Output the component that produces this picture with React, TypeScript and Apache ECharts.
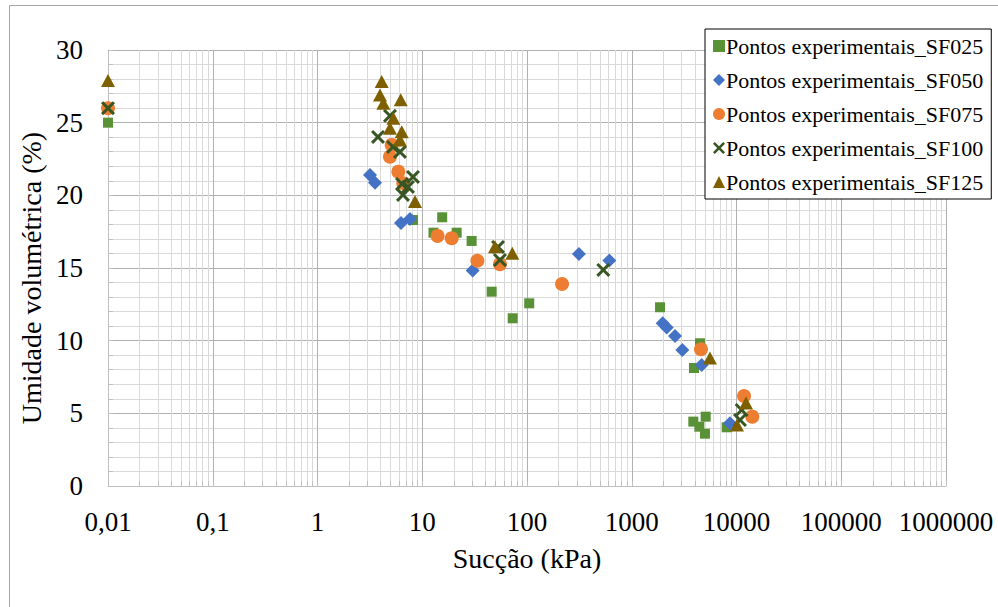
import React, { useEffect, useRef } from "react";
import * as echarts from "echarts";

const seriesNames = [
  "Pontos experimentais_SF025",
  "Pontos experimentais_SF050",
  "Pontos experimentais_SF075",
  "Pontos experimentais_SF100",
  "Pontos experimentais_SF125",
];

const sf025X = [0.01, 8.16, 12.8, 15.5, 21.3, 29.6, 46.0, 73.0, 105, 1862, 4480, 3930, 3870, 4420, 5080, 5000, 8060];
const sf025Y = [25.0, 18.3, 17.43, 18.49, 17.43, 16.86, 13.37, 11.54, 12.57, 12.3, 9.82, 8.12, 4.43, 4.08, 4.77, 3.6, 4.04];

const sf050X = [3.17, 3.54, 6.27, 7.64, 30.3, 313, 611, 1974, 2157, 2588, 3040, 4650, 8670];
const sf050Y = [21.4, 20.87, 18.1, 18.38, 14.82, 15.97, 15.51, 11.2, 10.9, 10.32, 9.36, 8.33, 4.31];

const sf075X = [0.01, 5.11, 4.92, 5.91, 6.59, 14.0, 19.1, 33.6, 55.2, 216, 4580, 11800, 14150];
const sf075Y = [26.0, 23.47, 22.66, 21.63, 20.83, 17.21, 17.05, 15.5, 15.26, 13.9, 9.41, 6.19, 4.77];

const sf100X = [0.01, 4.92, 3.78, 5.26, 6.13, 8.16, 6.41, 7.31, 6.55, 52.9, 55.2, 535, 11200, 10800];
const sf100Y = [26.0, 25.47, 24.02, 23.33, 22.99, 21.27, 20.78, 20.58, 20.03, 16.45, 15.55, 14.87, 5.23, 4.54];

const sf125X = [0.01, 4.10, 3.95, 4.25, 6.23, 5.30, 4.92, 6.37, 6.13, 8.53, 49.5, 72.4, 5580, 12330, 10110];
const sf125Y = [27.9, 27.83, 26.91, 26.34, 26.57, 25.31, 24.62, 24.38, 23.81, 19.57, 16.47, 16.01, 8.81, 5.71, 4.2];

const xName = "Sucção (kPa)";
const yName = "Umidade volumétrica (%)";

const colors = ["#599137", "#4472C4", "#ED7D31", "#375623", "#7F6000"];
const X_PATH =
  "path://M0,1.5 L1.5,0 L5,3.5 L8.5,0 L10,1.5 L6.5,5 L10,8.5 L8.5,10 L5,6.5 L1.5,10 L0,8.5 L3.5,5 Z";
const symbols = ["rect", "diamond", "circle", X_PATH, "triangle"];
const sizes: any[] = [10, 14, 14, 14, [14, 13]];

const FONT = "Liberation Serif";

function zip(xs: number[], ys: number[]) {
  return xs.map((x, i) => [x, ys[i]]);
}

export default function App() {
  const ref = useRef<HTMLDivElement>(null);
  useEffect(() => {
    if (!ref.current) return;
    const chart = echarts.init(ref.current, undefined, { renderer: "svg" });
    const data = [
      zip(sf025X, sf025Y),
      zip(sf050X, sf050Y),
      zip(sf075X, sf075Y),
      zip(sf100X, sf100Y),
      zip(sf125X, sf125Y),
    ];
    const fmt = (v: number) => {
      const s = Number(Number(v).toPrecision(6)).toString();
      return s.replace(".", ",");
    };
    chart.setOption({
      animation: false,
      backgroundColor: "#ffffff",
      textStyle: { fontFamily: FONT },
      graphic: [
        {
          type: "rect",
          shape: { x: 9.5, y: 5.5, width: 1000, height: 700 },
          style: { fill: "none", stroke: "#a6a6a6", lineWidth: 1 },
          silent: true,
          z: -10,
        },
      ],
      grid: { left: 108, right: 52, top: 50, bottom: 121, containLabel: false },
      legend: {
        orient: "vertical",
        left: 705,
        top: 29,
        padding: [5, 8, 5, 8],
        itemGap: 10,
        itemWidth: 12,
        itemHeight: 12,
        backgroundColor: "#ffffff",
        borderColor: "#000000",
        borderWidth: 1,
        borderRadius: 0,
        textStyle: { fontFamily: FONT, fontSize: 22, color: "#000", lineHeight: 24, padding: [0, 0, 0, -4] },
        data: seriesNames,
      },
      xAxis: {
        type: "log",
        logBase: 10,
        min: 0.01,
        max: 1000000,
        splitNumber: 8,
        name: xName,
        nameLocation: "middle",
        nameGap: 58,
        nameTextStyle: { fontFamily: FONT, fontSize: 28, color: "#000" },
        axisLine: { show: true, onZero: false, lineStyle: { color: "#bfbfbf", width: 1 } },
        axisTick: { show: true, inside: true, length: 5, lineStyle: { color: "#bfbfbf" } },
        minorTick: { show: true, splitNumber: 9, length: 5, lineStyle: { color: "#bfbfbf" } },
        axisLabel: { fontFamily: FONT, fontSize: 27, color: "#000", margin: 22, formatter: fmt },
        splitLine: { show: true, lineStyle: { color: "#b0b0b0", width: 1 } },
        minorSplitLine: { show: true, lineStyle: { color: "#d9d9d9", width: 1 } },
      },
      yAxis: {
        type: "value",
        min: 0,
        max: 30,
        interval: 5,
        name: yName,
        nameLocation: "middle",
        nameGap: 50,
        nameTextStyle: { fontFamily: FONT, fontSize: 28, color: "#000", padding: [0, 20, 0, 0] },
        axisLine: { show: true, lineStyle: { color: "#bfbfbf", width: 1 } },
        axisTick: { show: true, inside: true, length: 5, lineStyle: { color: "#bfbfbf" } },
        minorTick: { show: true, splitNumber: 5, length: 5, lineStyle: { color: "#bfbfbf" } },
        axisLabel: { fontFamily: FONT, fontSize: 27, color: "#000", margin: 25 },
        splitLine: { show: true, lineStyle: { color: "#b0b0b0", width: 1 } },
        minorSplitLine: { show: true, lineStyle: { color: "#d9d9d9", width: 1 } },
      },
      series: seriesNames.map((name, i) => ({
        name,
        type: "scatter",
        data: data[i],
        symbol: symbols[i],
        symbolSize: sizes[i],
        itemStyle: { color: colors[i], opacity: 1 },
        emphasis: { disabled: true },
      })),
    });
    return () => chart.dispose();
  }, []);
  return (
    <div
      ref={ref}
      style={{ position: "fixed", left: 0, top: 0, width: 998, height: 607, background: "#fff" }}
    />
  );
}
